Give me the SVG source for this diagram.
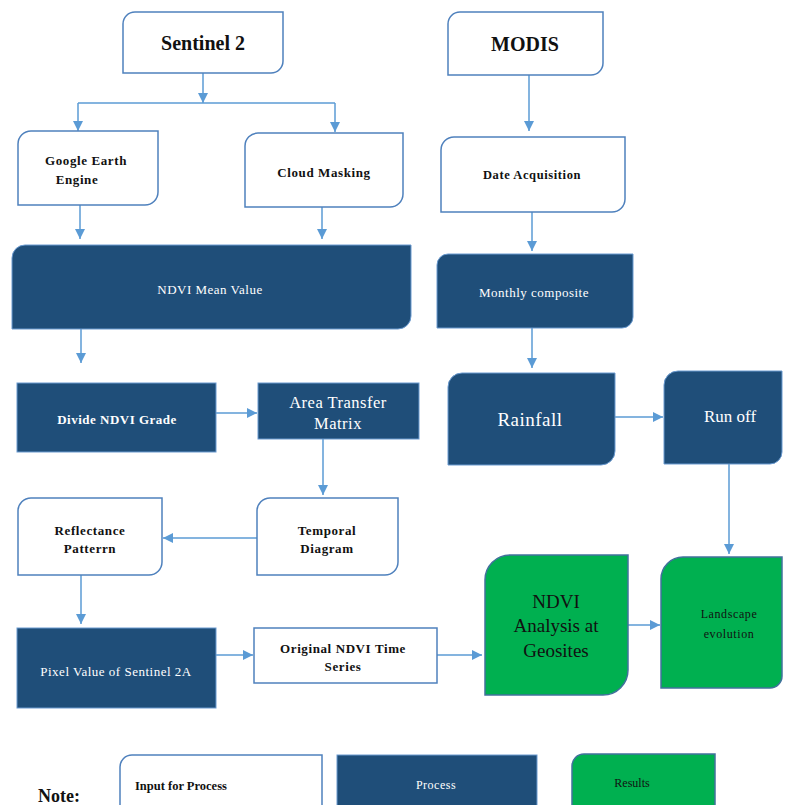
<svg xmlns="http://www.w3.org/2000/svg" width="790" height="805" viewBox="0 0 790 805">
<defs>
<marker id="ah" viewBox="0 0 10 10" refX="10" refY="5" markerWidth="10" markerHeight="10" markerUnits="userSpaceOnUse" orient="auto">
<path d="M0,0 L10,5 L0,10 Z" fill="#5B9BD5"/>
</marker>
<style>
.in{fill:#ffffff;stroke:#4F81BD;stroke-width:1.5}
.pr{fill:#1F4E79;stroke:#6A9AD0;stroke-width:1}
.rs{fill:#00B050;stroke:#41719C;stroke-width:1.5}
.c{fill:none;stroke:#5B9BD5;stroke-width:1.5}
.ca{fill:none;stroke:#5B9BD5;stroke-width:1.5;marker-end:url(#ah)}
text{font-family:"Liberation Serif","DejaVu Serif",serif;text-anchor:middle;dominant-baseline:central}
.tb{font-weight:bold;fill:#111;font-size:13px;letter-spacing:0.6px}
.tw{fill:#fff;font-size:13px;letter-spacing:0.5px}
.twb{fill:#fff;font-size:13px;font-weight:bold;letter-spacing:0.5px}
</style>
</defs>

<g id="connectors">
<path class="ca" d="M203,73 V103"/>
<path class="c" d="M78,103 H335"/>
<path class="ca" d="M78,103 V131"/>
<path class="ca" d="M335,103 V132"/>
<path class="ca" d="M80,205 V239"/>
<path class="ca" d="M322,207 V239"/>
<path class="ca" d="M81,329 V363"/>
<path class="ca" d="M216,413 H257"/>
<path class="ca" d="M323,439 V495"/>
<path class="ca" d="M257,538 H163"/>
<path class="ca" d="M81,575 V624"/>
<path class="ca" d="M216,655 H253"/>
<path class="ca" d="M437,655 H482"/>
<path class="ca" d="M628,625 H660"/>
<path class="ca" d="M529,75 V131"/>
<path class="ca" d="M532,212 V251"/>
<path class="ca" d="M532,328 V368"/>
<path class="ca" d="M615,417 H663"/>
<path class="ca" d="M729,464 V554"/>
</g>

<g id="sentinel2">
<path class="in" d="M135,12 H283 V61 A12,12 0 0 1 271,73 H123 V24 A12,12 0 0 1 135,12 Z"/>
<text x="203" y="43" style="font-weight:bold;font-size:20px;fill:#111">Sentinel 2</text>
</g>

<g id="modis">
<path class="in" d="M460,12 H603 V63 A12,12 0 0 1 591,75 H448 V24 A12,12 0 0 1 460,12 Z"/>
<text x="525" y="44" style="font-weight:bold;font-size:20px;fill:#111">MODIS</text>
</g>

<g id="gee">
<path class="in" d="M31,131 H158 V192 A13,13 0 0 1 145,205 H18 V144 A13,13 0 0 1 31,131 Z"/>
<text class="tb" x="86" y="160">Google Earth</text>
<text class="tb" x="77" y="179">Engine</text>
</g>

<g id="cloud">
<path class="in" d="M258,133 H403 V194 A13,13 0 0 1 390,207 H245 V146 A13,13 0 0 1 258,133 Z"/>
<text class="tb" x="324" y="172">Cloud Masking</text>
</g>

<g id="date">
<path class="in" d="M454,137 H625 V199 A13,13 0 0 1 612,212 H441 V150 A13,13 0 0 1 454,137 Z"/>
<text class="tb" x="532" y="175" style="font-size:12.5px">Date Acquisition</text>
</g>

<g id="ndvimean">
<path class="pr" d="M25,245 H411 V316 A13,13 0 0 1 398,329 H12 V258 A13,13 0 0 1 25,245 Z"/>
<text class="tw" x="210" y="289">NDVI Mean Value</text>
</g>

<g id="monthly">
<path class="pr" d="M448,254 H633 V317 A11,11 0 0 1 622,328 H437 V265 A11,11 0 0 1 448,254 Z"/>
<text class="tw" x="534" y="292">Monthly composite</text>
</g>

<g id="divide">
<rect class="pr" x="17" y="383" width="199" height="69"/>
<text class="twb" x="117" y="419">Divide NDVI Grade</text>
</g>

<g id="areatransfer">
<rect class="pr" x="258" y="383" width="161" height="56"/>
<text class="tw" x="338" y="402" style="font-size:16.5px">Area Transfer</text>
<text class="tw" x="338" y="423" style="font-size:16.5px">Matrix</text>
</g>

<g id="rainfall">
<path class="pr" d="M462,373 H615 V451 A14,14 0 0 1 601,465 H448 V387 A14,14 0 0 1 462,373 Z"/>
<text class="tw" x="530" y="419" style="font-size:19px">Rainfall</text>
</g>

<g id="runoff">
<path class="pr" d="M678,371 H782 V452 A12,12 0 0 1 770,464 H664 V385 A14,14 0 0 1 678,371 Z"/>
<text class="tw" x="730" y="416" style="font-size:17px;letter-spacing:0">Run off</text>
</g>

<g id="temporal">
<path class="in" d="M270,498 H398 V562 A13,13 0 0 1 385,575 H257 V511 A13,13 0 0 1 270,498 Z"/>
<text class="tb" x="327" y="530">Temporal</text>
<text class="tb" x="327" y="548">Diagram</text>
</g>

<g id="reflectance">
<path class="in" d="M31,498 H162 V562 A13,13 0 0 1 149,575 H18 V511 A13,13 0 0 1 31,498 Z"/>
<text class="tb" x="90" y="530">Reflectance</text>
<text class="tb" x="90" y="548">Patterrn</text>
</g>

<g id="pixel">
<rect class="pr" x="17" y="628" width="199" height="80"/>
<text class="tw" x="116" y="671">Pixel Value of Sentinel 2A</text>
</g>

<g id="original">
<rect class="in" x="254" y="628" width="183" height="55"/>
<text class="tb" x="343" y="648">Original NDVI Time</text>
<text class="tb" x="343" y="666">Series</text>
</g>

<g id="ndvianalysis">
<path class="rs" d="M510,555 H628 V670 A25,25 0 0 1 603,695 H485 V580 A25,25 0 0 1 510,555 Z"/>
<text x="556" y="601" style="font-size:19px;fill:#111">NDVI</text>
<text x="556" y="625" style="font-size:19px;fill:#111">Analysis at</text>
<text x="556" y="650" style="font-size:19px;fill:#111">Geosites</text>
</g>

<g id="landscape">
<path class="rs" d="M683,557 H782 V676 A12,12 0 0 1 770,688 H661 V579 A22,22 0 0 1 683,557 Z"/>
<text x="729" y="614" style="font-size:12px;fill:#111;letter-spacing:0.6px">Landscape</text>
<text x="729" y="634" style="font-size:12px;fill:#111;letter-spacing:0.6px">evolution</text>
</g>

<g id="legend">
<text x="38" y="796" style="text-anchor:start;font-size:18px;font-weight:bold;fill:#111">Note:</text>
<path class="in" d="M132,755 H322 V812 H120 V767 A12,12 0 0 1 132,755 Z"/>
<text x="135" y="786" style="text-anchor:start;font-size:12.5px;font-weight:bold;fill:#111">Input for Process</text>
<rect class="pr" x="337" y="755" width="200" height="60"/>
<text class="tw" x="436" y="785" style="font-size:12px">Process</text>
<path class="rs" d="M584,754 H715 V812 H572 V766 A12,12 0 0 1 584,754 Z"/>
<text x="632" y="783" style="font-size:12px;fill:#111">Results</text>
</g>
</svg>
